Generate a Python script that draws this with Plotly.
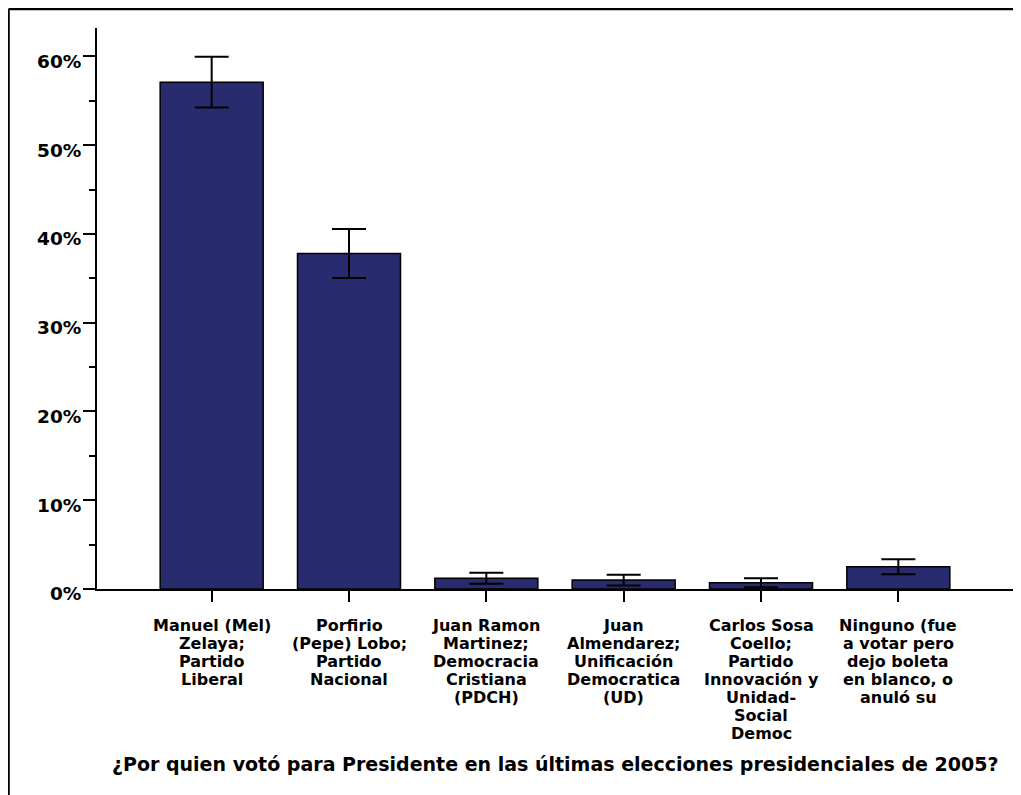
import plotly.graph_objects as go

categories = [
    "Manuel (Mel)<br>Zelaya;<br>Partido<br>Liberal",
    "Porfirio<br>(Pepe) Lobo;<br>Partido<br>Nacional",
    "Juan Ramon<br>Martinez;<br>Democracia<br>Cristiana<br>(PDCH)",
    "Juan<br>Almendarez;<br>Unificación<br>Democratica<br>(UD)",
    "Carlos Sosa<br>Coello;<br>Partido<br>Innovación y<br>Unidad-<br>Social<br>Democ",
    "Ninguno (fue<br>a votar pero<br>dejo boleta<br>en blanco, o<br>anuló su",
]
values = [57.1, 37.8, 1.2, 1.0, 0.7, 2.5]
errors = [2.85, 2.75, 0.62, 0.6, 0.5, 0.85]
y_ticks = [0, 10, 20, 30, 40, 50, 60]
y_ticktext = ["0%", "10%", "20%", "30%", "40%", "50%", "60%"]
title_text = "¿Por quien votó para Presidente en las últimas elecciones presidenciales de 2005?"

FONT = "DejaVu Sans"
x_idx = list(range(len(categories)))

fig = go.Figure()
fig.add_trace(go.Bar(
    x=x_idx,
    y=values,
    width=0.75,
    marker=dict(color="#292b6f", line=dict(color="black", width=1.5)),
    error_y=dict(type="data", array=errors, visible=True, color="black",
                 thickness=2, width=17),
    showlegend=False,
    hoverinfo="skip",
))

# category labels: one annotation per line so the line spacing matches
label_ann = []
LINE_H = 18
for i, lab in zip(x_idx, categories):
    for j, line in enumerate(lab.split("<br>")):
        label_ann.append(dict(
            text=line, xref="x", yref="paper", x=i, y=0,
            xanchor="center", yanchor="top", showarrow=False,
            yshift=-25 - LINE_H * j,
            font=dict(family=FONT, size=16, color="black", weight="bold"),
        ))

fig.update_layout(
    width=1013, height=787,
    margin=dict(l=89, r=8, t=20, b=206),
    paper_bgcolor="white", plot_bgcolor="white",
    font=dict(family=FONT, color="black"),
    xaxis=dict(
        range=[-0.835, 5.835],
        tickmode="array", tickvals=x_idx, ticktext=[""] * len(x_idx),
        showline=True, linecolor="black", linewidth=2,
        ticks="outside", ticklen=11, tickwidth=2, tickcolor="black",
        showgrid=False, zeroline=False,
    ),
    yaxis=dict(
        range=[0, 63.2],
        tickmode="array", tickvals=y_ticks, ticktext=y_ticktext,
        showline=True, linecolor="black", linewidth=2,
        ticks="outside", ticklen=12, tickwidth=2, tickcolor="black",
        minor=dict(dtick=5, ticks="outside", ticklen=6, tickwidth=2, tickcolor="black"),
        tickfont=dict(family=FONT, size=18.5, color="black", weight="bold"),
        showgrid=False, zeroline=False,
        ticklabelstandoff=-2,
        ticklabelshift=5,
    ),
    annotations=[dict(
        text=title_text, xref="paper", yref="paper",
        x=0.5, y=-0.312, xanchor="center", yanchor="middle",
        showarrow=False,
        font=dict(family=FONT, size=19, color="black", weight="bold"),
    )] + label_ann,
    shapes=[
        dict(type="line", xref="paper", yref="paper",
             x0=-0.0966, x1=1.05, y0=1.034, y1=1.034,
             line=dict(color="black", width=2.5)),
        dict(type="line", xref="paper", yref="paper",
             x0=-0.0966, x1=-0.0966, y0=1.034, y1=-0.5,
             line=dict(color="black", width=2.5)),
    ],
)

fig.write_html("out.html")
